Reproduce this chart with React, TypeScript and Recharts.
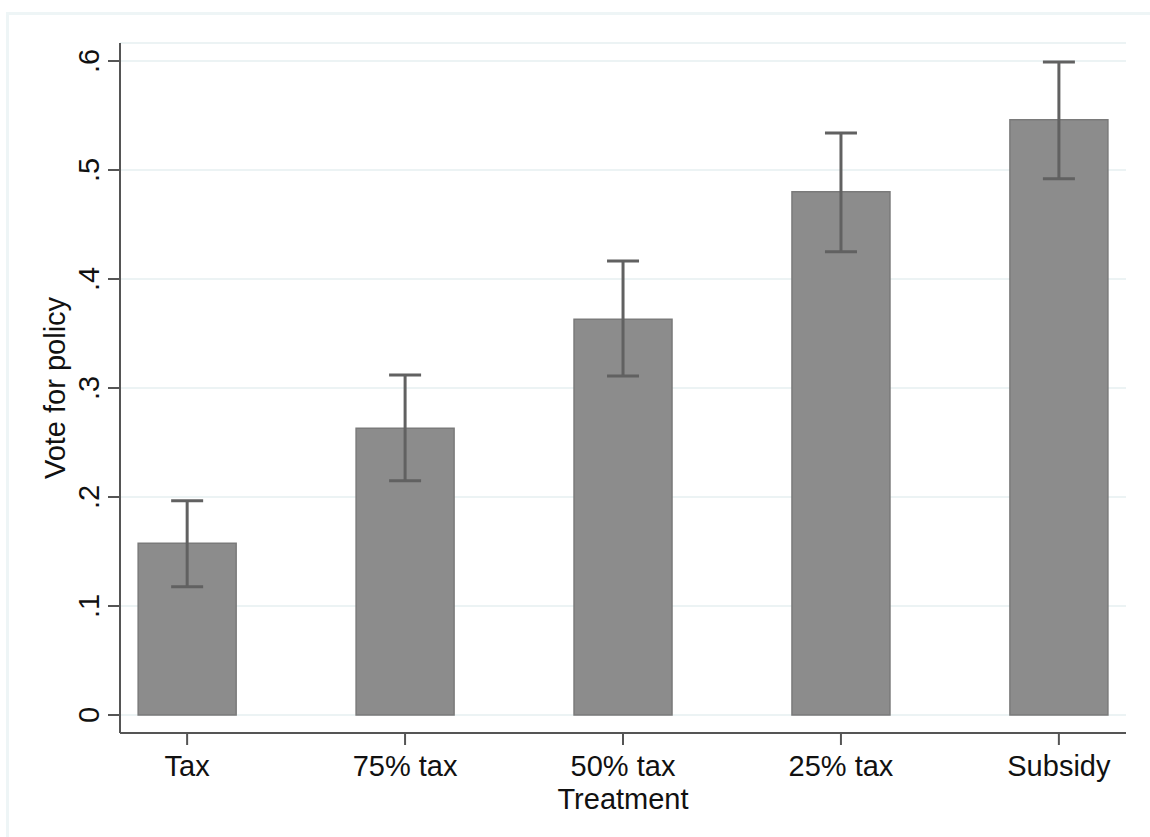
import { BarChart, Bar, XAxis, YAxis, CartesianGrid, ErrorBar, Label } from 'recharts';

const treatments = ['Tax', '75% tax', '50% tax', '25% tax', 'Subsidy'];
const voteShare = [0.1575, 0.263, 0.363, 0.48, 0.546];
const ciLow = [0.1177, 0.215, 0.311, 0.425, 0.492];
const ciHigh = [0.1966, 0.312, 0.4165, 0.534, 0.599];
const yTicks = [0, 0.1, 0.2, 0.3, 0.4, 0.5, 0.6];

const chartData = treatments.map((name, i) => ({
  pos: i,
  name,
  vote: voteShare[i],
  err: [voteShare[i] - ciLow[i], ciHigh[i] - voteShare[i]],
}));

const FONT = '"Liberation Sans", Arial, sans-serif';
const FS = 29;

const fmtY = (v: number) => (v === 0 ? '0' : String(Math.round(v * 10) / 10).replace(/^0/, ''));

function YTick({ x, y, payload }: any) {
  return (
    <text
      x={x - 7}
      y={y}
      transform={`rotate(-90, ${x - 7}, ${y})`}
      textAnchor="middle"
      fontSize={FS}
      fontFamily={FONT}
      fill="#111"
    >
      {fmtY(payload.value)}
    </text>
  );
}

export default function App() {
  return (
    <div style={{ position: 'absolute', left: 0, top: 0, width: 1150, height: 837, background: '#fff' }}>
      <div
        style={{
          position: 'absolute',
          left: 6,
          top: 12,
          width: 1144,
          height: 825,
          borderLeft: '3px solid #eef5f6',
          borderTop: '3px solid #eef5f6',
        }}
      />
      <div style={{ position: 'absolute', left: 0, top: 0 }}>
        <BarChart
          width={1150}
          height={837}
          data={chartData}
          margin={{ top: 43, right: 24, bottom: 0, left: 0 }}
        >
          <CartesianGrid vertical={false} stroke="#e6eff1" strokeWidth={1.5} />
          <XAxis
            dataKey="pos"
            type="number"
            domain={[-0.308, 4.308]}
            ticks={[0, 1, 2, 3, 4]}
            allowDataOverflow
            tickFormatter={(v: number) => treatments[v] ?? ''}
            tickSize={12}
            tickMargin={10}
            tick={{ fontSize: FS, fontFamily: FONT, fill: '#111' }}
            axisLine={{ stroke: '#555', strokeWidth: 2 }}
            tickLine={{ stroke: '#555', strokeWidth: 2 }}
            height={104}
          >
            <Label
              content={({ viewBox }: any) => (
                <text
                  x={viewBox.x + viewBox.width / 2}
                  y={809}
                  textAnchor="middle"
                  fontSize={FS}
                  fontFamily={FONT}
                  fill="#111"
                >
                  Treatment
                </text>
              )}
            />
          </XAxis>
          <YAxis
            type="number"
            domain={[-0.0165, 0.6165]}
            ticks={yTicks}
            allowDataOverflow
            width={120}
            tickSize={12}
            tick={<YTick />}
            axisLine={{ stroke: '#555', strokeWidth: 2 }}
            tickLine={{ stroke: '#555', strokeWidth: 2 }}
          >
            <Label
              content={({ viewBox }: any) => {
                const cy = viewBox.y + viewBox.height / 2;
                return (
                  <text
                    x={65}
                    y={cy}
                    transform={`rotate(-90, 65, ${cy})`}
                    textAnchor="middle"
                    fontSize={FS}
                    fontFamily={FONT}
                    fill="#111"
                  >
                    Vote for policy
                  </text>
                );
              }}
            />
          </YAxis>
          <Bar dataKey="vote" fill="#8c8c8c" stroke="#7a7a7a" strokeWidth={1.5} barSize={98} isAnimationActive={false}>
            <ErrorBar dataKey="err" direction="y" width={16} stroke="#616161" strokeWidth={3} />
          </Bar>
        </BarChart>
      </div>
    </div>
  );
}
